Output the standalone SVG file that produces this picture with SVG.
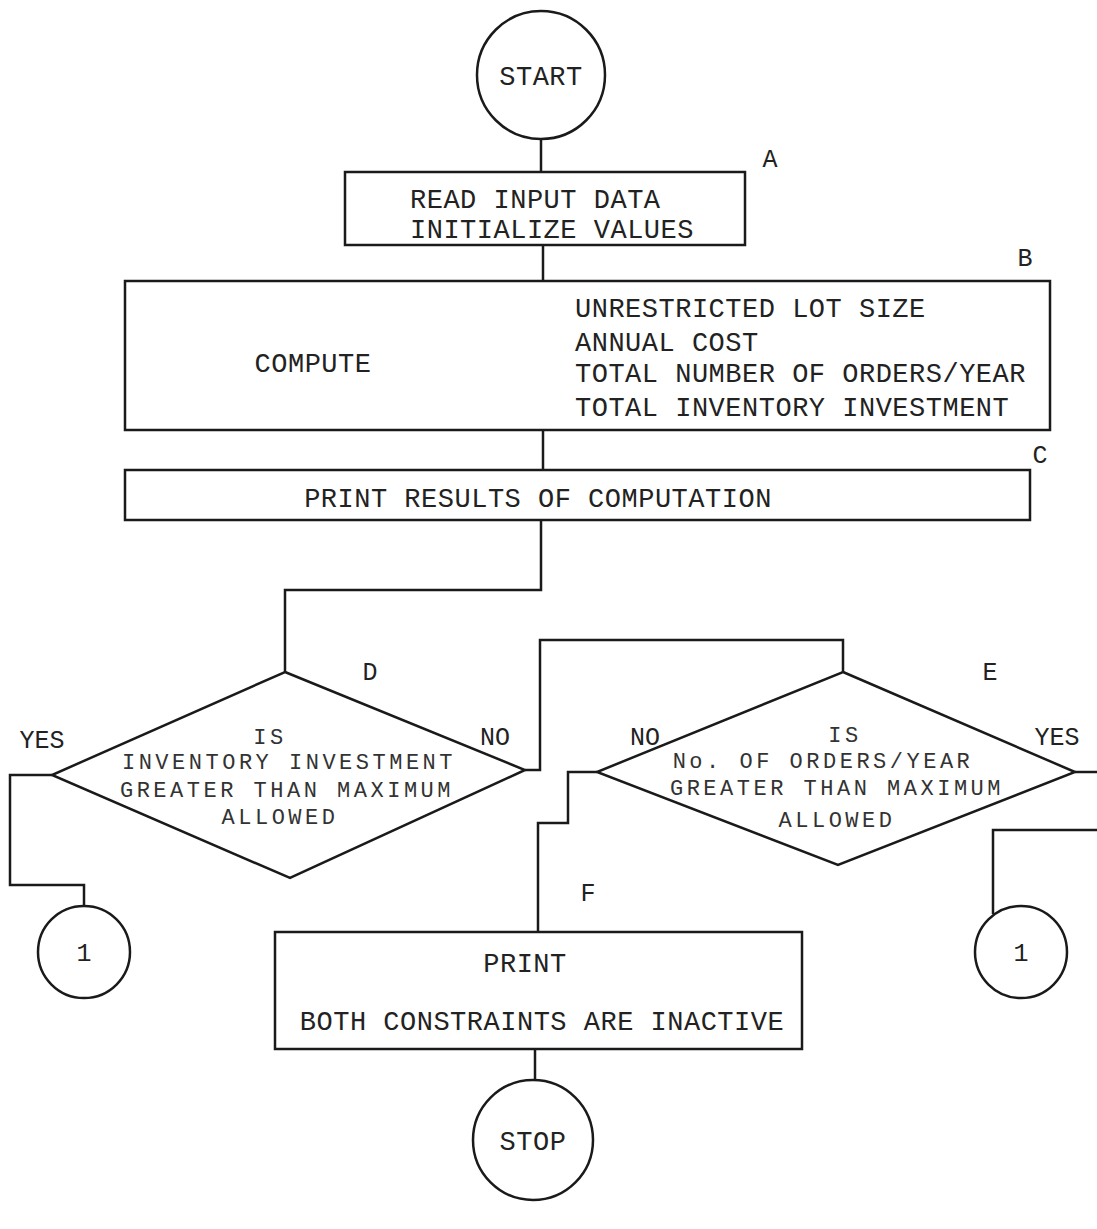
<svg xmlns="http://www.w3.org/2000/svg" width="1097" height="1229" viewBox="0 0 1097 1229">
<style>
.s{fill:none;stroke:#1a1a1a;stroke-width:2.5;stroke-linejoin:miter}
.t{font-family:"Liberation Mono","DejaVu Sans Mono",monospace;font-size:27px;letter-spacing:0.5px;fill:#222}
.d{font-family:"Liberation Mono","DejaVu Sans Mono",monospace;font-size:22px;letter-spacing:3.5px;fill:#333;text-anchor:middle}
.m{text-anchor:middle}
.l{font-family:"Liberation Mono","DejaVu Sans Mono",monospace;font-size:25px;fill:#222;text-anchor:middle}
</style>
<rect width="1097" height="1229" fill="#fff"/>
<g id="connectors" class="s">
<path d="M541 139 V172"/>
<path d="M543 245 V281"/>
<path d="M543 430 V470"/>
<path d="M541 520 V590 H285 V672"/>
<path d="M525 770 H540 V640 H843 V672"/>
<path d="M52 775 H10 V885 H84 V906"/>
<path d="M597 772 H568 V823 H538 V932"/>
<path d="M1075 772 H1097"/>
<path d="M1097 830 H993 V914"/>
<path d="M535 1049 V1080"/>
</g>
<g id="start">
<circle class="s" cx="541" cy="75" r="64"/>
<text class="t m" x="541" y="85">START</text>
</g>
<g id="nodeA">
<rect class="s" x="345" y="172" width="400" height="73"/>
<text class="t" x="410" y="208">READ INPUT DATA</text>
<text class="t" x="410" y="238">INITIALIZE VALUES</text>
<text class="l" x="770" y="167">A</text>
</g>
<g id="nodeB">
<rect class="s" x="125" y="281" width="925" height="149"/>
<text class="t m" x="313" y="372">COMPUTE</text>
<text class="t" x="575" y="317">UNRESTRICTED LOT SIZE</text>
<text class="t" x="575" y="351">ANNUAL COST</text>
<text class="t" x="575" y="382">TOTAL NUMBER OF ORDERS/YEAR</text>
<text class="t" x="575" y="416">TOTAL INVENTORY INVESTMENT</text>
<text class="l" x="1025" y="266">B</text>
</g>
<g id="nodeC">
<rect class="s" x="125" y="470" width="905" height="50"/>
<text class="t m" x="538" y="507">PRINT RESULTS OF COMPUTATION</text>
<text class="l" x="1040" y="463">C</text>
</g>
<g id="nodeD">
<polygon class="s" points="285,672 525,770 290,878 52,775"/>
<text class="d" x="270" y="744">IS</text>
<text class="d" x="289" y="769">INVENTORY INVESTMENT</text>
<text class="d" x="287" y="797">GREATER THAN MAXIMUM</text>
<text class="d" x="280" y="824">ALLOWED</text>
<text class="l" x="370" y="680">D</text>
<text class="l" x="42" y="748">YES</text>
<text class="l" x="495" y="745">NO</text>
</g>
<g id="nodeE">
<polygon class="s" points="843,672 1075,772 838,865 597,772"/>
<text class="d" x="845" y="742">IS</text>
<text class="d" x="823" y="768">No. OF ORDERS/YEAR</text>
<text class="d" x="837" y="795">GREATER THAN MAXIMUM</text>
<text class="d" x="837" y="827">ALLOWED</text>
<text class="l" x="990" y="680">E</text>
<text class="l" x="645" y="745">NO</text>
<text class="l" x="1057" y="745">YES</text>
</g>
<g id="nodeF">
<rect class="s" x="275" y="932" width="527" height="117"/>
<text class="t m" x="525" y="972">PRINT</text>
<text class="t m" x="542" y="1030">BOTH CONSTRAINTS ARE INACTIVE</text>
<text class="l" x="588" y="901">F</text>
</g>
<g id="stop">
<circle class="s" cx="533" cy="1140" r="60"/>
<text class="t m" x="533" y="1150">STOP</text>
</g>
<g id="connectorLeft">
<circle class="s" cx="84" cy="952" r="46"/>
<text class="l" x="84" y="961">1</text>
</g>
<g id="connectorRight">
<circle class="s" cx="1021" cy="952" r="46"/>
<text class="l" x="1021" y="961">1</text>
</g>
</svg>
